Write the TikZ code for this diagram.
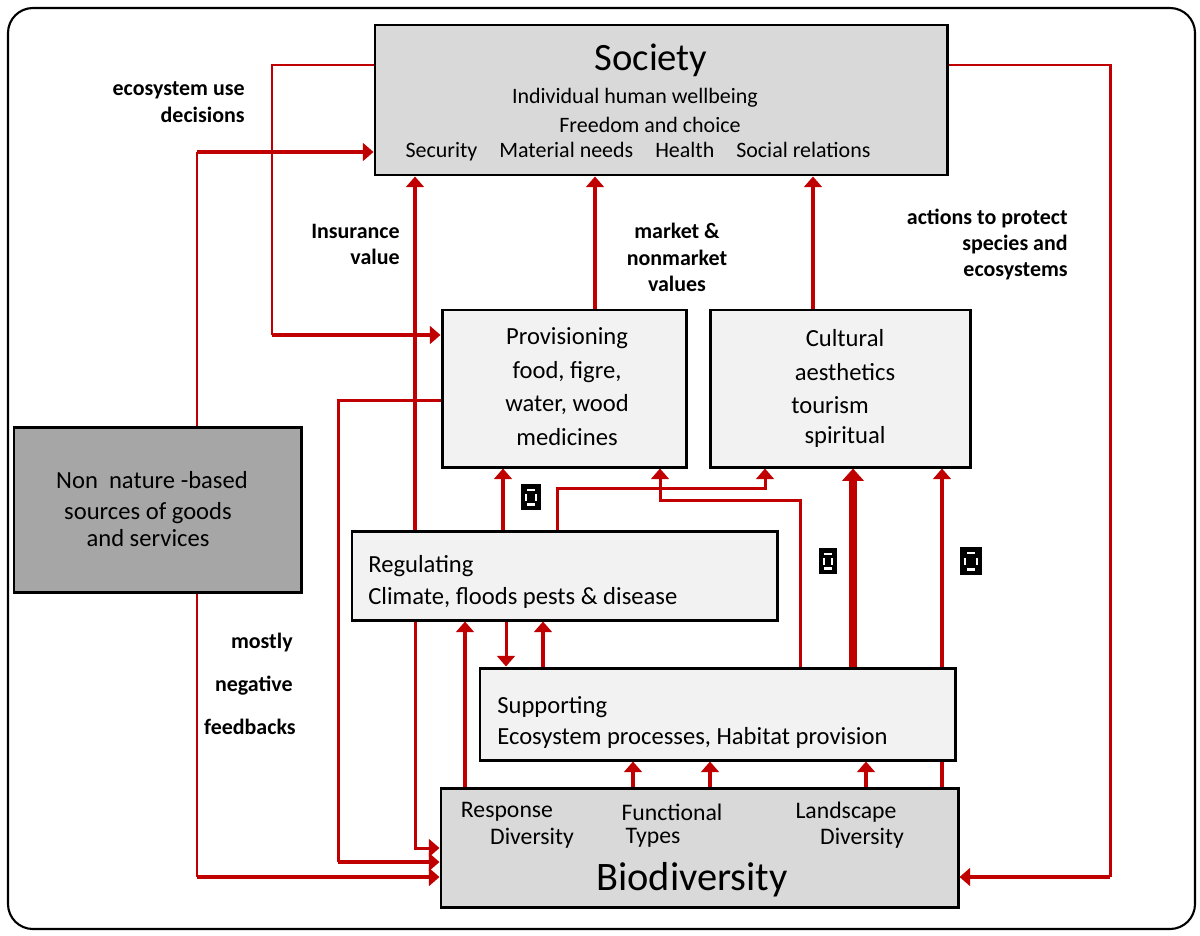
\documentclass[tikz,border=0pt]{standalone}
\usepackage{fontspec}
\setmainfont{Carlito}
\usetikzlibrary{arrows.meta,backgrounds}
\definecolor{linkred}{HTML}{C00000}
\definecolor{boxgray}{HTML}{D9D9D9}
\definecolor{boxlight}{HTML}{F2F2F2}
\definecolor{boxdark}{HTML}{A6A6A6}

\begin{document}
\begin{tikzpicture}[x=0.2mm, y=-0.2mm,
  box/.style={draw, line width=1.7pt, inner sep=0pt},
  txt/.style={inner sep=0pt, font=\fontsize{14}{16}\selectfont},
  small/.style={inner sep=0pt, font=\fontsize{12.5}{14}\selectfont},
  lbl/.style={inner sep=0pt, font=\bfseries\fontsize{12.5}{14}\selectfont},
  thinlink/.style={linkred, line width=1.7pt},
  thicklink/.style={linkred, line width=2.8pt},
  tip/.style={-{Triangle[length=6pt,width=10pt]}},
  glyph/.style={fill=black, inner sep=0pt,
    path picture={
      \fill[white] ([xshift=-0.8mm,yshift=-0.9mm]path picture bounding box.north) rectangle ([xshift=0.8mm,yshift=-1.4mm]path picture bounding box.north);
      \fill[white] ([xshift=-0.8mm,yshift=0.9mm]path picture bounding box.south) rectangle ([xshift=0.8mm,yshift=1.4mm]path picture bounding box.south);
      \fill[white] ([xshift=0.8mm,yshift=-0.7mm]path picture bounding box.west) rectangle ([xshift=1.2mm,yshift=0.7mm]path picture bounding box.west);
      \fill[white] ([xshift=-0.8mm,yshift=-0.7mm]path picture bounding box.east) rectangle ([xshift=-1.2mm,yshift=0.7mm]path picture bounding box.east);
    }}]
\useasboundingbox (0,0) rectangle (1200,935);
\draw[line width=1.2pt, rounded corners=5mm] (8,8) rectangle (1195,929);

% boxes
\node[box, fill=boxgray, minimum width=114.4mm, minimum height=30mm] (soc) at (661,100) {};
\node[box, fill=boxlight, minimum width=48.8mm, minimum height=31.4mm] (prov) at (564,388.5) {};
\node[box, fill=boxlight, minimum width=52mm, minimum height=31.4mm] (cult) at (840,388.5) {};
\node[box, fill=boxdark, minimum width=57.4mm, minimum height=33mm] (nonn) at (157.5,509.5) {};
\node[box, fill=boxlight, minimum width=85mm, minimum height=17.8mm] (reg) at (564.5,575.5) {};
\node[box, fill=boxlight, minimum width=95mm, minimum height=18.4mm] (sup) at (717.5,714) {};
\node[box, fill=boxgray, minimum width=103.4mm, minimum height=23.8mm] (bio) at (699.5,847.5) {};

% box texts
\node[txt, font=\fontsize{22}{26}\selectfont] (socT) at (651,60) {Society};
\node[small] (socA) at (635,98) {Individual human wellbeing};
\node[small] (socB) at (650,125) {Freedom and choice};
\node[small] (socC) at (638,152) {Security\quad Material needs\quad Health\quad Social relations};
\node[txt] (provT) at (567,338) {Provisioning};
\node[txt] (provA) at (567,372) {food, figre,};
\node[txt] (provB) at (567,405) {water, wood};
\node[txt] (provC) at (567,437) {medicines};
\node[txt] (cultT) at (845,338) {Cultural};
\node[txt] (cultA) at (845,372) {aesthetics};
\node[txt] (cultB) at (830,405) {tourism};
\node[txt] (cultC) at (845,437) {spiritual};
\node[txt] (nonnA) at (152,480) {Non\ \ nature -based};
\node[txt] (nonnB) at (148,513) {sources of goods};
\node[txt] (nonnC) at (148,538) {and services};
\node[txt, anchor=west] (regT) at (368,566) {Regulating};
\node[txt, anchor=west] (regA) at (368,598) {Climate, floods pests \& disease};
\node[txt, anchor=west] (supT) at (497,707) {Supporting};
\node[txt, anchor=west] (supA) at (497,738) {Ecosystem processes, Habitat provision};
\node[small, font=\fontsize{13.5}{15}\selectfont] (bioA) at (507,812) {Response};
\node[small, font=\fontsize{13.5}{15}\selectfont] (bioB) at (532,838) {Diversity};
\node[small, font=\fontsize{13.5}{15}\selectfont] (bioC) at (672,812) {Functional};
\node[small, font=\fontsize{13.5}{15}\selectfont] (bioD) at (653,838) {Types};
\node[small, font=\fontsize{13.5}{15}\selectfont] (bioE) at (846,812) {Landscape};
\node[small, font=\fontsize{13.5}{15}\selectfont] (bioF) at (862,838) {Diversity};
\node[txt, font=\fontsize{23}{27}\selectfont] (bioT) at (692,880) {Biodiversity};

% link labels
\node[lbl, anchor=east] (useA) at (245,90) {ecosystem use};
\node[lbl, anchor=east] (useB) at (245,115) {decisions};
\node[lbl, anchor=east] (insA) at (400,231) {Insurance};
\node[lbl, anchor=east] (insB) at (400,257) {value};
\node[lbl] (mktA) at (677,231) {market \&};
\node[lbl] (mktB) at (677,258) {nonmarket};
\node[lbl] (mktC) at (677,284) {values};
\node[lbl, anchor=east] (actA) at (1068,219) {actions to protect};
\node[lbl, anchor=east] (actB) at (1068,245) {species and};
\node[lbl, anchor=east] (actC) at (1068,271) {ecosystems};
\node[lbl, anchor=east] (negA) at (293,643) {mostly};
\node[lbl, anchor=east] (negB) at (293,686) {negative};
\node[lbl, anchor=east] (negC) at (296,727) {feedbacks};

% sign marks
\node[glyph, minimum width=4mm, minimum height=5.2mm] (gA) at (531,497) {};
\node[glyph, minimum width=3.6mm, minimum height=5.2mm] (gB) at (828,561) {};
\node[glyph, minimum width=4.4mm, minimum height=5.6mm] (gC) at (971,561) {};

% connectors
\begin{scope}[on background layer]
\draw[thinlink] (soc.west |- 0,65) -| (272,335);
\draw[thicklink, tip] (272,335) -- (prov.west |- 0,335);
\draw[thinlink] (197,0 |- nonn.north) -- (197,152);
\draw[thicklink, tip] (197,152) -- (soc.west |- 0,152);
\draw[thinlink] (197,0 |- nonn.south) -- (197,877);
\draw[thicklink, tip] (197,877) -- (bio.west |- 0,877);
\draw[thinlink] (soc.east |- 0,65) -| (1110,877);
\draw[thicklink, tip] (1110,877) -- (bio.east |- 0,877);
\draw[thinlink] (prov.west |- 0,400) -| (338,862);
\draw[thicklink, tip] (338,862) -- (bio.west |- 0,862);
\draw[thinlink, tip] (415,0 |- reg.south) |- (bio.west |- 0,848);
\draw[thicklink, tip] (415,0 |- reg.north) -- (415,0 |- soc.south);
\draw[thicklink, tip] (595,0 |- prov.north) -- (595,0 |- soc.south);
\draw[thicklink, tip] (813,0 |- cult.north) -- (813,0 |- soc.south);
\draw[thicklink, tip] (503,0 |- reg.north) -- (503,0 |- prov.south);
\draw[thinlink, tip] (557,0 |- reg.north) |- (765,488) -- (765,0 |- cult.south);
\draw[thinlink, tip] (800,0 |- sup.north) |- (660,500) -- (660,0 |- prov.south);
\draw[linkred, line width=4.5pt, -{Triangle[length=7pt,width=12pt]}] (853,0 |- sup.north) -- (853,0 |- cult.south);
\draw[thicklink, tip] (942,0 |- bio.north) -- (942,0 |- cult.south);
\draw[thicklink, tip] (465,0 |- bio.north) -- (465,0 |- reg.south);
\draw[thinlink, tip] (506,0 |- reg.south) -- (506,0 |- sup.north);
\draw[thicklink, tip] (543,0 |- sup.north) -- (543,0 |- reg.south);
\foreach \x in {633,710,866}
  \draw[thicklink, tip] (\x,0 |- bio.north) -- (\x,0 |- sup.south);
\end{scope}
\end{tikzpicture}
\end{document}
